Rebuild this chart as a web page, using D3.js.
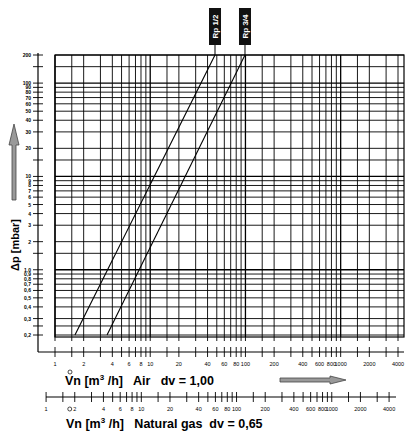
<!DOCTYPE html>
<html><head><meta charset="utf-8">
<script src="https://cdn.jsdelivr.net/npm/d3@7"></script>
<style>body{margin:0;background:#fff}text{font-family:"Liberation Sans",Arial,sans-serif}</style>
</head><body><svg id="c" width="416" height="434"></svg>
<script>
const yTicks=[0.2,0.3,0.4,0.5,0.6,0.7,0.8,0.9,1,2,3,4,5,6,7,8,9,10,20,30,40,50,60,70,80,90,100,200];
const yLabels=["0,2","0,3","0,4","0,5","0,6","0,7","0,8","0,9","1,0","2","3","4","5","6","7","8","9","10","20","30","40","50","60","70","80","90","100","200"];
const yMinor=[0.25,1.5,15,150];
const xTicks=[1,1.5,2,3,4,5,6,7,8,9,10,15,20,30,40,50,60,70,80,90,100,150,200,300,400,500,600,700,800,900,1000,1500,2000,3000,4000];
const xLabelVals=[1,2,4,6,8,10,20,40,60,80,100,200,400,600,800,1000,2000,4000];
const gasFactor=1/Math.sqrt(0.65);
const seriesNames=["Rp 1/2","Rp 3/4"];
const seriesFlow=[[1.62,47.9],[3.52,98.9]];
const seriesDp=[[0.2,200],[0.2,200]];

const svg=d3.select("#c");
const x=d3.scaleLog().domain([1,4000]).range([55,398]);
const y=d3.scaleLog().domain([0.2,200]).range([335,55]);
const xL=55,xR=404,yT=55,yB=337;
const g=svg.append("g").attr("stroke","#000").attr("fill","none");
yTicks.concat(yMinor).forEach(v=>g.append("line").attr("x1",xL).attr("x2",xR).attr("y1",y(v)).attr("y2",y(v)).attr("stroke-width",[1,10,100].includes(v)?1.3:0.9));
xTicks.forEach(v=>g.append("line").attr("x1",x(v)).attr("x2",x(v)).attr("y1",yT).attr("y2",yB).attr("stroke-width",[1,10,100,1000].includes(v)?1.3:0.9));
g.append("rect").attr("x",xL).attr("y",yT).attr("width",xR-xL).attr("height",yB-yT).attr("stroke-width",1.2);
const ax=38;
g.append("line").attr("x1",ax).attr("x2",ax).attr("y1",yT-2).attr("y2",352).attr("stroke-width",1.2);
yTicks.concat(yMinor).forEach(v=>g.append("line").attr("x1",ax-5).attr("x2",ax+5).attr("y1",y(v)).attr("y2",y(v)).attr("stroke-width",0.9));
svg.selectAll(".yl").data(yTicks).enter().append("text").attr("x",ax-7).attr("y",d=>y(d)+2)
 .attr("text-anchor","end").attr("font-size",5).attr("font-weight","bold").text((d,i)=>yLabels[i]);
const by=352;
g.append("line").attr("x1",ax).attr("x2",404).attr("y1",by).attr("y2",by).attr("stroke-width",1.2);
xTicks.forEach(v=>g.append("line").attr("x1",x(v)).attr("x2",x(v)).attr("y1",by-5).attr("y2",by+5).attr("stroke-width",0.9));
xTicks.forEach(v=>g.append("line").attr("x1",x(v)).attr("x2",x(v)).attr("y1",yB).attr("y2",yB+4).attr("stroke-width",0.9));
svg.selectAll(".xl").data(xLabelVals).enter().append("text").attr("x",d=>x(d)).attr("y",366)
 .attr("text-anchor","middle").attr("font-size",5.5).text(d=>d);
svg.append("text").attr("x",65).attr("y",385).attr("font-size",12.5).attr("font-weight","bold").attr("xml:space","preserve")
 .html('Vn [m<tspan dy="-5" font-size="8">3</tspan><tspan dy="5"> /h]   Air   dv = 1,00</tspan>');
svg.append("circle").attr("cx",70).attr("cy",372).attr("r",2).attr("fill","none").attr("stroke","#000").attr("stroke-width",0.7);
svg.append("path").attr("d","M280,378 L330,378 L330,376 L346,380 L330,384 L330,382 L280,382 Z").attr("fill","#999").attr("stroke","#444").attr("stroke-width",0.8);
const xg=d3.scaleLog().domain([1,4000]).range([x(1/gasFactor),x(4000/gasFactor)]);
const gy=397;
g.append("line").attr("x1",46).attr("x2",396).attr("y1",gy).attr("y2",gy).attr("stroke-width",1.2);
xTicks.forEach(v=>g.append("line").attr("x1",xg(v)).attr("x2",xg(v)).attr("y1",gy-5).attr("y2",gy+5).attr("stroke-width",0.9));
svg.selectAll(".gl").data(xLabelVals).enter().append("text").attr("x",d=>xg(d)).attr("y",411)
 .attr("text-anchor","middle").attr("font-size",5.5).text(d=>d);
svg.append("text").attr("x",66).attr("y",428).attr("font-size",12.5).attr("font-weight","bold").attr("xml:space","preserve")
 .html('Vn [m<tspan dy="-5" font-size="8">3</tspan><tspan dy="5"> /h]   Natural gas  dv = 0,65</tspan>');
svg.append("circle").attr("cx",xg(2)-5).attr("cy",409).attr("r",2).attr("fill","none").attr("stroke","#000").attr("stroke-width",0.7);
svg.append("text").attr("transform","translate(19,245) rotate(-90)").attr("text-anchor","middle").attr("font-size",11).attr("font-weight","bold").text("Δp [mbar]");
svg.append("path").attr("d","M12,200 L12,145 L9,145 L14,124 L19,145 L16,145 L16,200 Z").attr("fill","#999").attr("stroke","#444").attr("stroke-width",0.8);
const line=d3.line().x(d=>x(d[0])).y(d=>y(d[1]));
seriesNames.forEach((n,i)=>{
 const pts=seriesFlow[i].map((f,j)=>[f,seriesDp[i][j]]);
 svg.append("path").attr("d",line(pts)).attr("stroke","#000").attr("fill","none").attr("stroke-width",1.1);
 const px=x(seriesFlow[i][1]);
 svg.append("line").attr("x1",px).attr("x2",px).attr("y1",45).attr("y2",55).attr("stroke","#000");
 svg.append("rect").attr("x",px-6).attr("y",8).attr("width",12).attr("height",37).attr("fill","#111");
 svg.append("text").attr("transform",`translate(${px+3},26.5) rotate(-90)`).attr("text-anchor","middle").attr("font-size",8).attr("font-weight","bold").attr("fill","#fff").text(n);
});
</script></body></html>
